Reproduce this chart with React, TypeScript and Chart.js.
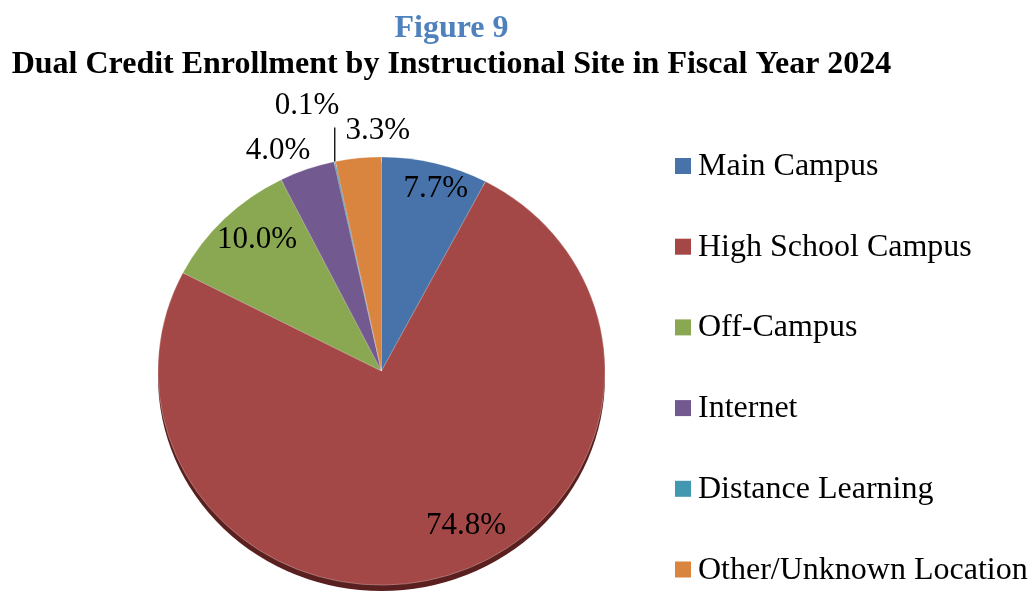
import React, { useEffect, useRef } from "react";
import { Chart, registerables } from "chart.js";

Chart.register(...registerables);

const categories = [
  "Main Campus",
  "High School Campus",
  "Off-Campus",
  "Internet",
  "Distance Learning",
  "Other/Unknown Location",
];
const shares = [7.7, 74.8, 10.0, 4.0, 0.1, 3.3];
const sliceColors = ["#4773AA", "#A34846", "#8AA852", "#72598F", "#4298AE", "#D9843F"];
const titleLine1 = "Figure 9";
const titleLine2 = "Dual Credit Enrollment by Instructional Site in Fiscal Year 2024";

// label placement relative to each arc: [radius factor, angle shift in degrees]
const labelPlacement: [number, number][] = [
  [0.895, 1.9],
  [0.808, -10.4],
  [0.838, 3.0],
  [1.136, -4.6],
  [1.291, -2.9],
  [1.135, 5.1],
];

const FONT = "'Liberation Serif', 'Times New Roman', serif";
const Y_SCALE = 0.958;

export default function App() {
  const ref = useRef<HTMLCanvasElement | null>(null);

  useEffect(() => {
    document.body.style.margin = "0";
    document.body.style.overflow = "hidden";
    const canvas = ref.current;
    if (!canvas) return;

    const ellipsePlugin = {
      id: "ellipse",
      beforeDatasetsDraw(chart: any) {
        const meta = chart.getDatasetMeta(0);
        const arc = meta.data[0];
        if (!arc) return;
        const { x, y, outerRadius } = arc.getProps(["x", "y", "outerRadius"], true);
        const ctx = chart.ctx;
        // 3D rim below the pie
        ctx.save();
        ctx.beginPath();
        ctx.ellipse(x, y + 6, outerRadius, outerRadius * Y_SCALE, 0, 0, Math.PI * 2);
        ctx.fillStyle = "#5A2020";
        ctx.fill();
        ctx.restore();
        ctx.save();
        ctx.translate(x, y);
        ctx.scale(1, Y_SCALE);
        ctx.translate(-x, -y);
      },
      afterDatasetsDraw(chart: any) {
        const ctx = chart.ctx;
        ctx.restore();
        const meta = chart.getDatasetMeta(0);
        ctx.save();
        ctx.font = `31px ${FONT}`;
        ctx.fillStyle = "#000";
        ctx.textAlign = "center";
        ctx.textBaseline = "alphabetic";
        meta.data.forEach((arc: any, i: number) => {
          const { x, y, startAngle, endAngle, outerRadius } = arc.getProps(
            ["x", "y", "startAngle", "endAngle", "outerRadius"],
            true
          );
          const mid = (startAngle + endAngle) / 2;
          const [f, shift] = labelPlacement[i];
          const a = mid + (shift * Math.PI) / 180;
          const lx = x + Math.cos(a) * outerRadius * f;
          const ly = y + Math.sin(a) * outerRadius * f * Y_SCALE;
          ctx.fillText(shares[i].toFixed(1) + "%", lx, ly + 10.5);
          if (f > 1.2) {
            const ex = x + Math.cos(mid) * outerRadius;
            const ey = y + Math.sin(mid) * outerRadius * Y_SCALE;
            ctx.beginPath();
            ctx.moveTo(ex, ey);
            ctx.lineTo(ex, ey - 34);
            ctx.strokeStyle = "#000";
            ctx.lineWidth = 1.3;
            ctx.stroke();
          }
        });
        ctx.restore();
      },
      afterDraw(chart: any) {
        const ctx = chart.ctx;
        ctx.save();
        ctx.textAlign = "center";
        ctx.textBaseline = "alphabetic";
        ctx.font = `bold 32px ${FONT}`;
        ctx.fillStyle = "#4F81BD";
        ctx.fillText(titleLine1, 451.5, 37);
        ctx.fillStyle = "#000";
        ctx.fillText(titleLine2, 451.5, 73);
        // legend
        ctx.textAlign = "left";
        ctx.font = `32px ${FONT}`;
        categories.forEach((c, i) => {
          const base = 175 + 80.7 * i;
          ctx.fillStyle = sliceColors[i];
          ctx.fillRect(675, base - 17, 16, 16);
          ctx.fillStyle = "#000";
          ctx.fillText(c, 698, base);
        });
        ctx.restore();
      },
    };

    const chart = new Chart(canvas, {
      type: "pie",
      data: {
        labels: categories,
        datasets: [
          {
            data: shares,
            backgroundColor: sliceColors,
            borderColor: "rgba(255,255,255,0.35)",
            borderWidth: 0.8,
            radius: 223.5,
          } as any,
        ],
      },
      options: {
        animation: false,
        responsive: false,
        maintainAspectRatio: false,
        layout: { padding: { left: 0, right: 266, top: 149, bottom: 0 } },
        plugins: {
          legend: { display: false },
          title: { display: false },
          tooltip: { enabled: false },
        },
      },
      plugins: [ellipsePlugin],
    });

    return () => chart.destroy();
  }, []);

  return (
    <div style={{ width: 1029, height: 593, background: "#fff" }}>
      <canvas ref={ref} width={1029} height={593} style={{ display: "block" }} />
    </div>
  );
}
